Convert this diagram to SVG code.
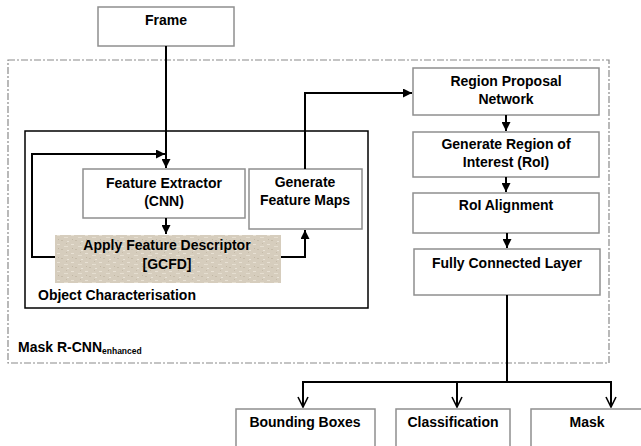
<svg xmlns="http://www.w3.org/2000/svg" width="641" height="446" viewBox="0 0 641 446">
  <style>
    text { font-family: "Liberation Sans", Arial, sans-serif; font-weight: bold; font-size: 14px; fill: #000; }
    .c { text-anchor: middle; }
    .box { fill: #fff; stroke: #8f8f8f; stroke-width: 1.5; }
    .wire { fill: none; stroke: #000; stroke-width: 2; }
  </style>
  <defs>
    <marker id="tri" viewBox="0 0 10 10" refX="10" refY="5" markerWidth="4.5" markerHeight="4.5" orient="auto" markerUnits="strokeWidth">
      <path d="M0,0 L10,5 L0,10 z" fill="#000"/>
    </marker>
    <marker id="vee" viewBox="0 0 12 12" refX="11" refY="6" markerWidth="6" markerHeight="6" orient="auto" markerUnits="strokeWidth">
      <path d="M1,1 L11,6 L1,11" fill="none" stroke="#000" stroke-width="1.6"/>
    </marker>
    <!-- parchment-like speckled fill -->
    <pattern id="parch" width="14" height="9" patternUnits="userSpaceOnUse">
      <rect width="14" height="9" fill="#d6cdbd"/>
      <rect x="1" y="1" width="3" height="1" fill="#e8e1d4"/>
      <rect x="8" y="3" width="4" height="1" fill="#e5ded0"/>
      <rect x="5" y="6" width="2" height="1" fill="#c6bcaa"/>
      <rect x="11" y="7" width="2" height="1" fill="#e9e3d7"/>
      <rect x="2" y="5" width="1" height="1" fill="#c2b8a5"/>
      <rect x="10" y="0" width="1" height="1" fill="#c6bcaa"/>
    </pattern>
  </defs>

  <!-- Mask R-CNN enhanced container -->
  <g id="mask-rcnn-container">
    <rect x="8" y="60" width="601" height="303" fill="none" stroke="#8a8a8a" stroke-width="1.2" stroke-dasharray="7,2,2,2"/>
    <text x="18" y="352">Mask R-CNN<tspan font-size="8.5" dy="2">enhanced</tspan></text>
  </g>

  <!-- Object characterisation container -->
  <g id="object-characterisation">
    <rect x="25" y="131" width="343" height="177" fill="none" stroke="#000" stroke-width="1.5"/>
    <text x="38" y="300">Object Characterisation</text>
  </g>

  <g id="frame">
    <rect class="box" x="98" y="7" width="136" height="39"/>
    <text class="c" x="166" y="25">Frame</text>
  </g>

  <g id="feature-extractor">
    <rect class="box" x="83" y="169" width="162" height="49"/>
    <text class="c" x="164" y="188">Feature Extractor</text>
    <text class="c" x="164" y="206">(CNN)</text>
  </g>

  <g id="feature-descriptor">
    <rect x="55" y="235" width="226" height="48" fill="url(#parch)"/>
    <text class="c" x="167" y="250">Apply Feature Descriptor</text>
    <text class="c" x="167" y="269">[GCFD]</text>
  </g>

  <g id="feature-maps">
    <rect class="box" x="249" y="169" width="113" height="60"/>
    <text class="c" x="305" y="187">Generate</text>
    <text class="c" x="305" y="205">Feature Maps</text>
  </g>

  <g id="rpn">
    <rect class="box" x="413" y="68" width="186" height="47"/>
    <text class="c" x="506" y="86">Region Proposal</text>
    <text class="c" x="506" y="104">Network</text>
  </g>

  <g id="roi">
    <rect class="box" x="413" y="132" width="186" height="45"/>
    <text class="c" x="506" y="149">Generate Region of</text>
    <text class="c" x="506" y="167">Interest (RoI)</text>
  </g>

  <g id="roi-align">
    <rect class="box" x="413" y="193" width="186" height="40"/>
    <text class="c" x="506" y="210">RoI Alignment</text>
  </g>

  <g id="fc-layer">
    <rect class="box" x="414" y="249" width="186" height="46"/>
    <text class="c" x="507" y="268">Fully Connected Layer</text>
  </g>

  <g id="bounding-boxes">
    <rect class="box" x="236" y="409" width="139" height="45"/>
    <text class="c" x="305" y="427">Bounding Boxes</text>
  </g>

  <g id="classification">
    <rect class="box" x="396" y="409" width="114" height="45"/>
    <text class="c" x="453" y="427">Classification</text>
  </g>

  <g id="mask">
    <rect class="box" x="531" y="409" width="114" height="45"/>
    <text class="c" x="587" y="427">Mask</text>
  </g>

  <!-- connectors -->
  <g id="connectors">
    <path class="wire" d="M166,46 V168" marker-end="url(#tri)"/>
    <path class="wire" d="M166,218 V234" marker-end="url(#tri)"/>
    <path class="wire" d="M55,257 H32 V154 H165" marker-end="url(#tri)"/>
    <path class="wire" d="M281,257 H305 V230" marker-end="url(#tri)"/>
    <path class="wire" d="M305,169 V93 H412" marker-end="url(#tri)"/>
    <path class="wire" d="M506,115 V131" marker-end="url(#tri)"/>
    <path class="wire" d="M506,177 V192" marker-end="url(#tri)"/>
    <path class="wire" d="M507,233 V248" marker-end="url(#tri)"/>
    <path class="wire" d="M507,295 V382"/>
    <path class="wire" d="M303,407 V382 H611 V407" marker-end="url(#vee)"/>
    <path class="wire" d="M303,382 V407" marker-end="url(#vee)"/>
    <path class="wire" d="M457,382 V407" marker-end="url(#vee)"/>
  </g>
</svg>
